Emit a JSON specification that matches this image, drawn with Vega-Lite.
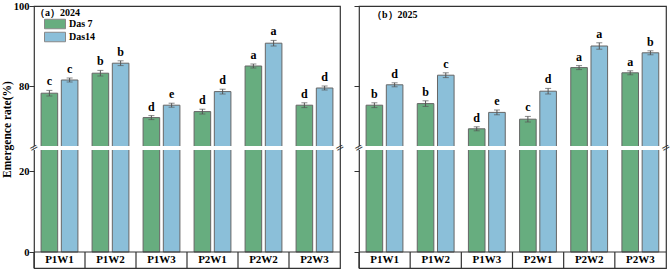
{
  "$schema": "https://vega.github.io/schema/vega-lite/v6.json",
  "padding": {"left": 0, "top": 0, "right": 0, "bottom": 0},
  "background": "white",
  "config": {
    "font": "Liberation Serif",
    "view": {"stroke": "#333333", "strokeWidth": 1.2},
    "axis": {"labelFont": "Liberation Serif", "labelFontWeight": "bold", "labelColor": "black", "titleFont": "Liberation Serif", "titleFontWeight": "bold", "titleColor": "black", "grid": false}
  },
  "datasets": {
    "bars": [
      {"year": "2024", "group": "P1W1", "series": "Das 7", "value": 78.2, "lo": 77.5, "hi": 78.9, "letter": "c"},
      {"year": "2024", "group": "P1W1", "series": "Das14", "value": 81.5, "lo": 81.0, "hi": 82.0, "letter": "c"},
      {"year": "2024", "group": "P1W2", "series": "Das 7", "value": 83.2, "lo": 82.5, "hi": 83.9, "letter": "b"},
      {"year": "2024", "group": "P1W2", "series": "Das14", "value": 85.7, "lo": 85.1, "hi": 86.3, "letter": "b"},
      {"year": "2024", "group": "P1W3", "series": "Das 7", "value": 72.1, "lo": 71.6, "hi": 72.6, "letter": "d"},
      {"year": "2024", "group": "P1W3", "series": "Das14", "value": 75.2, "lo": 74.7, "hi": 75.7, "letter": "e"},
      {"year": "2024", "group": "P2W1", "series": "Das 7", "value": 73.6, "lo": 73.0, "hi": 74.2, "letter": "d"},
      {"year": "2024", "group": "P2W1", "series": "Das14", "value": 78.6, "lo": 78.0, "hi": 79.2, "letter": "d"},
      {"year": "2024", "group": "P2W2", "series": "Das 7", "value": 85.0, "lo": 84.5, "hi": 85.5, "letter": "a"},
      {"year": "2024", "group": "P2W2", "series": "Das14", "value": 90.7, "lo": 90.0, "hi": 91.4, "letter": "a"},
      {"year": "2024", "group": "P2W3", "series": "Das 7", "value": 75.2, "lo": 74.6, "hi": 75.8, "letter": "d"},
      {"year": "2024", "group": "P2W3", "series": "Das14", "value": 79.5, "lo": 79.0, "hi": 80.0, "letter": "d"},
      {"year": "2025", "group": "P1W1", "series": "Das 7", "value": 75.2, "lo": 74.6, "hi": 75.8, "letter": "b"},
      {"year": "2025", "group": "P1W1", "series": "Das14", "value": 80.3, "lo": 79.8, "hi": 80.8, "letter": "d"},
      {"year": "2025", "group": "P1W2", "series": "Das 7", "value": 75.6, "lo": 74.9, "hi": 76.3, "letter": "b"},
      {"year": "2025", "group": "P1W2", "series": "Das14", "value": 82.7, "lo": 82.1, "hi": 83.3, "letter": "c"},
      {"year": "2025", "group": "P1W3", "series": "Das 7", "value": 69.3, "lo": 68.8, "hi": 69.8, "letter": "d"},
      {"year": "2025", "group": "P1W3", "series": "Das14", "value": 73.4, "lo": 72.8, "hi": 74.0, "letter": "e"},
      {"year": "2025", "group": "P2W1", "series": "Das 7", "value": 71.7, "lo": 71.0, "hi": 72.4, "letter": "c"},
      {"year": "2025", "group": "P2W1", "series": "Das14", "value": 78.7, "lo": 78.0, "hi": 79.4, "letter": "d"},
      {"year": "2025", "group": "P2W2", "series": "Das 7", "value": 84.6, "lo": 84.1, "hi": 85.1, "letter": "a"},
      {"year": "2025", "group": "P2W2", "series": "Das14", "value": 90.0, "lo": 89.2, "hi": 90.8, "letter": "a"},
      {"year": "2025", "group": "P2W3", "series": "Das 7", "value": 83.3, "lo": 82.8, "hi": 83.8, "letter": "a"},
      {"year": "2025", "group": "P2W3", "series": "Das14", "value": 88.3, "lo": 87.8, "hi": 88.8, "letter": "b"}
    ],
    "panel2024": [{"year": "2024", "label": "（a）2024"}],
    "panel2025": [{"year": "2025", "label": "（b）2025"}]
  },
  "hconcat": [
    {
      "width": 306,
      "height": 262,
      "data": {"name": "bars"},
      "transform": [{"filter": "datum.year == '2024'"}],
      "encoding": {
        "x": {"field": "group", "type": "nominal", "sort": ["P1W1","P1W2","P1W3","P2W1","P2W2","P2W3"], "scale": {"paddingInner": 0, "paddingOuter": 0}, "axis": null},
        "xOffset": {"field": "series", "type": "nominal", "sort": ["Das 7", "Das14"], "scale": {"paddingInner": 0.18, "paddingOuter": 0.35}}
      },
      "layer": [
        {
          "mark": {"type": "bar", "stroke": "#666666", "strokeWidth": 1},
          "encoding": {
            "y": {"field": "value", "type": "quantitative", "scale": {"domain": [-4, 0, 25.2, 65, 100], "range": [262, 246, 144, 140, 0], "nice": false, "zero": false},
              "axis": {"title": "Emergence rate(%)", "values": [0, 20, 80, 100], "domain": false, "tickSize": 5, "tickColor": "#333333", "labelFontSize": 10.5, "titleFontSize": 11.5, "titlePadding": 1, "labelPadding": 0, "titleY": 123}},
            "color": {"field": "series", "type": "nominal", "scale": {"domain": ["Das 7", "Das14"], "range": ["#67ad7f", "#8bbfd9"]},
              "legend": {"title": null, "orient": "none", "legendX": 15.5, "legendY": 12.5, "symbolType": "M-2.1,-0.95H2.1V0.95H-2.1Z", "symbolSize": 100, "symbolStrokeColor": "#888888", "symbolStrokeWidth": 1, "symbolOpacity": 1, "labelFont": "Liberation Serif", "labelFontWeight": "bold", "labelFontSize": 10, "labelColor": "black", "rowPadding": -6, "labelOffset": 8.5, "padding": 0, "offset": 0}}
          }
        },
        {
          "mark": {"type": "rule", "color": "#555555", "strokeWidth": 1},
          "encoding": {"y": {"field": "lo", "type": "quantitative"}, "y2": {"field": "hi"}}
        },
        {
          "mark": {"type": "tick", "color": "#555555", "thickness": 1, "size": 6},
          "encoding": {"y": {"field": "lo", "type": "quantitative"}}
        },
        {
          "mark": {"type": "tick", "color": "#555555", "thickness": 1, "size": 6},
          "encoding": {"y": {"field": "hi", "type": "quantitative"}}
        },
        {
          "mark": {"type": "text", "baseline": "bottom", "dy": -2, "font": "Liberation Serif", "fontWeight": "bold", "fontSize": 12, "color": "black"},
          "encoding": {"y": {"field": "hi", "type": "quantitative"}, "text": {"field": "letter"}}
        },
        {
          "transform": [{"filter": "datum.series == 'Das 7'"}],
          "mark": {"type": "rule", "color": "#333333", "strokeWidth": 1.2},
          "encoding": {
            "x": {"field": "group", "type": "nominal", "bandPosition": 0},
            "xOffset": null,
            "y": {"datum": -4, "type": "quantitative"},
            "y2": {"datum": 0}
          }
        },
        {
          "transform": [{"filter": "datum.series == 'Das 7'"}],
          "mark": {"type": "text", "baseline": "middle", "align": "center", "font": "Liberation Serif", "fontWeight": "bold", "fontSize": 11, "color": "black"},
          "encoding": {
            "x": {"field": "group", "type": "nominal"},
            "xOffset": null,
            "y": {"datum": -2, "type": "quantitative"},
            "text": {"field": "group"}
          }
        },
        {
          "data": {"name": "panel2024"},
          "layer": [
            {
              "mark": {"type": "rect", "color": "white"},
              "encoding": {"x": null, "xOffset": null, "y": {"datum": 25.2, "type": "quantitative"}, "y2": {"datum": 65}}
            },
            {
              "mark": {"type": "rule", "color": "#333333", "strokeWidth": 1.2},
              "encoding": {"x": null, "xOffset": null, "y": {"datum": 0, "type": "quantitative"}}
            },
            {
              "mark": {"type": "text", "baseline": "middle", "align": "left", "dx": 1, "font": "Liberation Serif", "fontWeight": "bold", "fontSize": 10, "color": "black"},
              "encoding": {
                "x": {"datum": "P1W1", "type": "nominal", "bandPosition": 0},
                "xOffset": null,
                "y": {"datum": 98.25, "type": "quantitative"},
                "text": {"field": "label"}
              }
            },
            {
              "mark": {"type": "text", "text": "=", "angle": -30, "font": "DejaVu Sans", "fontSize": 11, "color": "#333333", "baseline": "middle", "align": "center"},
              "encoding": {"x": {"datum": "P1W1", "type": "nominal", "bandPosition": 0}, "xOffset": null, "y": {"datum": 45, "type": "quantitative"}}
            },
            {
              "mark": {"type": "text", "text": "=", "angle": -30, "font": "DejaVu Sans", "fontSize": 11, "color": "#333333", "baseline": "middle", "align": "center"},
              "encoding": {"x": {"datum": "P2W3", "type": "nominal", "bandPosition": 1}, "xOffset": null, "y": {"datum": 45, "type": "quantitative"}}
            }
          ]
        }
      ]
    },
    {
      "width": 307,
      "height": 262,
      "data": {"name": "bars"},
      "transform": [{"filter": "datum.year == '2025'"}],
      "encoding": {
        "x": {"field": "group", "type": "nominal", "sort": ["P1W1","P1W2","P1W3","P2W1","P2W2","P2W3"], "scale": {"paddingInner": 0, "paddingOuter": 0}, "axis": null},
        "xOffset": {"field": "series", "type": "nominal", "sort": ["Das 7", "Das14"], "scale": {"paddingInner": 0.18, "paddingOuter": 0.35}}
      },
      "layer": [
        {
          "mark": {"type": "bar", "stroke": "#666666", "strokeWidth": 1},
          "encoding": {
            "y": {"field": "value", "type": "quantitative", "scale": {"domain": [-4, 0, 25.2, 65, 100], "range": [262, 246, 144, 140, 0], "nice": false, "zero": false},
              "axis": {"title": null, "values": [0, 20, 80, 100], "labels": false, "domain": false, "tickSize": 5, "tickColor": "#333333"}},
            "color": {"field": "series", "type": "nominal", "scale": {"domain": ["Das 7", "Das14"], "range": ["#67ad7f", "#8bbfd9"]}, "legend": null}
          }
        },
        {
          "mark": {"type": "rule", "color": "#555555", "strokeWidth": 1},
          "encoding": {"y": {"field": "lo", "type": "quantitative"}, "y2": {"field": "hi"}}
        },
        {
          "mark": {"type": "tick", "color": "#555555", "thickness": 1, "size": 6},
          "encoding": {"y": {"field": "lo", "type": "quantitative"}}
        },
        {
          "mark": {"type": "tick", "color": "#555555", "thickness": 1, "size": 6},
          "encoding": {"y": {"field": "hi", "type": "quantitative"}}
        },
        {
          "mark": {"type": "text", "baseline": "bottom", "dy": -2, "font": "Liberation Serif", "fontWeight": "bold", "fontSize": 12, "color": "black"},
          "encoding": {"y": {"field": "hi", "type": "quantitative"}, "text": {"field": "letter"}}
        },
        {
          "transform": [{"filter": "datum.series == 'Das 7'"}],
          "mark": {"type": "rule", "color": "#333333", "strokeWidth": 1.2},
          "encoding": {
            "x": {"field": "group", "type": "nominal", "bandPosition": 0},
            "xOffset": null,
            "y": {"datum": -4, "type": "quantitative"},
            "y2": {"datum": 0}
          }
        },
        {
          "transform": [{"filter": "datum.series == 'Das 7'"}],
          "mark": {"type": "text", "baseline": "middle", "align": "center", "font": "Liberation Serif", "fontWeight": "bold", "fontSize": 11, "color": "black"},
          "encoding": {
            "x": {"field": "group", "type": "nominal"},
            "xOffset": null,
            "y": {"datum": -2, "type": "quantitative"},
            "text": {"field": "group"}
          }
        },
        {
          "data": {"name": "panel2025"},
          "layer": [
            {
              "mark": {"type": "rect", "color": "white"},
              "encoding": {"x": null, "xOffset": null, "y": {"datum": 25.2, "type": "quantitative"}, "y2": {"datum": 65}}
            },
            {
              "mark": {"type": "rule", "color": "#333333", "strokeWidth": 1.2},
              "encoding": {"x": null, "xOffset": null, "y": {"datum": 0, "type": "quantitative"}}
            },
            {
              "mark": {"type": "text", "baseline": "middle", "align": "left", "dx": 13, "font": "Liberation Serif", "fontWeight": "bold", "fontSize": 10, "color": "black"},
              "encoding": {
                "x": {"datum": "P1W1", "type": "nominal", "bandPosition": 0},
                "xOffset": null,
                "y": {"datum": 97.75, "type": "quantitative"},
                "text": {"field": "label"}
              }
            },
            {
              "mark": {"type": "text", "text": "=", "angle": -30, "font": "DejaVu Sans", "fontSize": 11, "color": "#333333", "baseline": "middle", "align": "center"},
              "encoding": {"x": {"datum": "P1W1", "type": "nominal", "bandPosition": 0}, "xOffset": null, "y": {"datum": 45, "type": "quantitative"}}
            },
            {
              "mark": {"type": "text", "text": "=", "angle": -30, "font": "DejaVu Sans", "fontSize": 11, "color": "#333333", "baseline": "middle", "align": "center"},
              "encoding": {"x": {"datum": "P2W3", "type": "nominal", "bandPosition": 1}, "xOffset": null, "y": {"datum": 45, "type": "quantitative"}}
            }
          ]
        }
      ]
    }
  ],
  "spacing": 3,
  "resolve": {"legend": {"color": "independent"}}
}
